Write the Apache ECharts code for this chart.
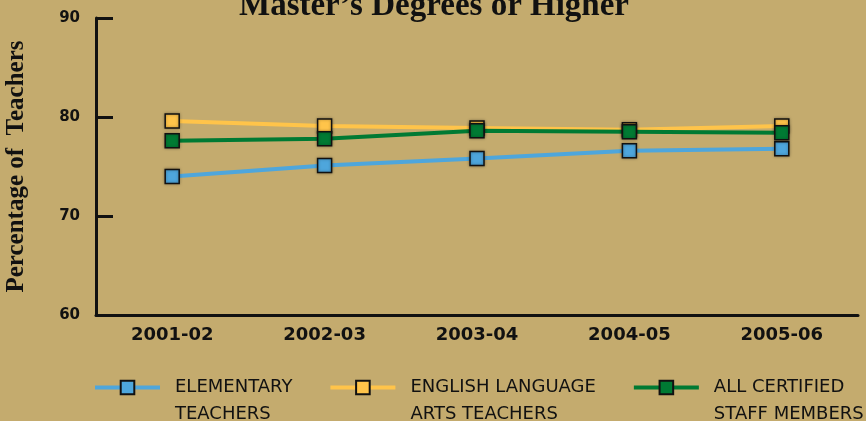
<!DOCTYPE html>
<html>
<head>
<meta charset="utf-8">
<style>
  html, body { margin: 0; padding: 0; background: #c4ab6e; }
  #chart { width: 866px; height: 421px; }
</style>
<script src="https://cdn.jsdelivr.net/npm/echarts@6/dist/echarts.min.js"></script>
</head>
<body>
<div id="chart"></div>
<script>
const years = ["2001-02", "2002-03", "2003-04", "2004-05", "2005-06"];
const elementary = [74.0, 75.1, 75.8, 76.6, 76.8];
const englishLA = [79.6, 79.1, 78.9, 78.7, 79.1];
const allStaff = [77.6, 77.8, 78.6, 78.5, 78.4];
const seriesNames = ["ELEMENTARY\nTEACHERS", "ENGLISH LANGUAGE\nARTS TEACHERS", "ALL CERTIFIED\nSTAFF MEMBERS"];
const seriesColors = ["#4ea6dc", "#ffc44a", "#007a33"];

const labelFont = "DejaVu Sans";
const chart = echarts.init(document.getElementById("chart"));

function makeSeries(name, data, color) {
  return {
    name: name,
    type: "line",
    data: data,
    symbol: "rect",
    symbolSize: 14,
    lineStyle: { color: color, width: 4 },
    itemStyle: {
      color: color,
      borderColor: "#111",
      borderWidth: 1.5,
      shadowColor: "rgba(0,0,0,0.35)",
      shadowBlur: 3
    },
    emphasis: { disabled: true }
  };
}

const option = {
  backgroundColor: "#c4ab6e",
  animation: false,
  title: {
    text: "Master\u2019s Degrees or Higher",
    left: 429,
    textAlign: "center",
    top: -15,
    textStyle: {
      fontFamily: "Liberation Serif",
      fontWeight: "bold",
      fontSize: 33,
      color: "#111"
    }
  },
  grid: { left: 96, right: 8, top: 18, bottom: 106, outerBoundsMode: "none" },
  xAxis: {
    type: "category",
    data: years,
    boundaryGap: true,
    axisLine: { lineStyle: { color: "#111", width: 3 } },
    axisTick: { inside: true, length: 8, lineStyle: { color: "#111", width: 2 } },
    axisLabel: {
      color: "#111",
      fontFamily: labelFont,
      fontWeight: "bold",
      fontSize: 18,
      margin: 11
    }
  },
  yAxis: {
    type: "value",
    min: 60,
    max: 90,
    interval: 10,
    name: "Percentage of  Teachers",
    nameLocation: "middle",
    nameGap: 67,
    nameTextStyle: {
      fontFamily: "Liberation Serif",
      fontWeight: "bold",
      fontSize: 25,
      color: "#111"
    },
    axisLine: { show: true, lineStyle: { color: "#111", width: 3 } },
    axisTick: { show: true, inside: true, length: 17, lineStyle: { color: "#111", width: 3 } },
    splitLine: { show: false },
    axisLabel: {
      color: "#111",
      fontFamily: labelFont,
      fontWeight: "bold",
      fontSize: 15,
      margin: 16
    }
  },
  legend: {
    top: 347,
    left: 93,
    padding: 0,
    itemWidth: 65,
    itemHeight: 17,
    itemGap: 36,
    data: seriesNames,
    formatter: function (name) {
      return "\n" + name;
    },
    lineStyle: { width: 4 },
    textStyle: {
      fontFamily: labelFont,
      fontSize: 18,
      color: "#111",
      lineHeight: 27,
      padding: [0, 0, 0, 10]
    }
  },
  series: [
    makeSeries(seriesNames[0], elementary, seriesColors[0]),
    makeSeries(seriesNames[1], englishLA, seriesColors[1]),
    makeSeries(seriesNames[2], allStaff, seriesColors[2])
  ]
};

chart.setOption(option);
</script>
</body>
</html>
